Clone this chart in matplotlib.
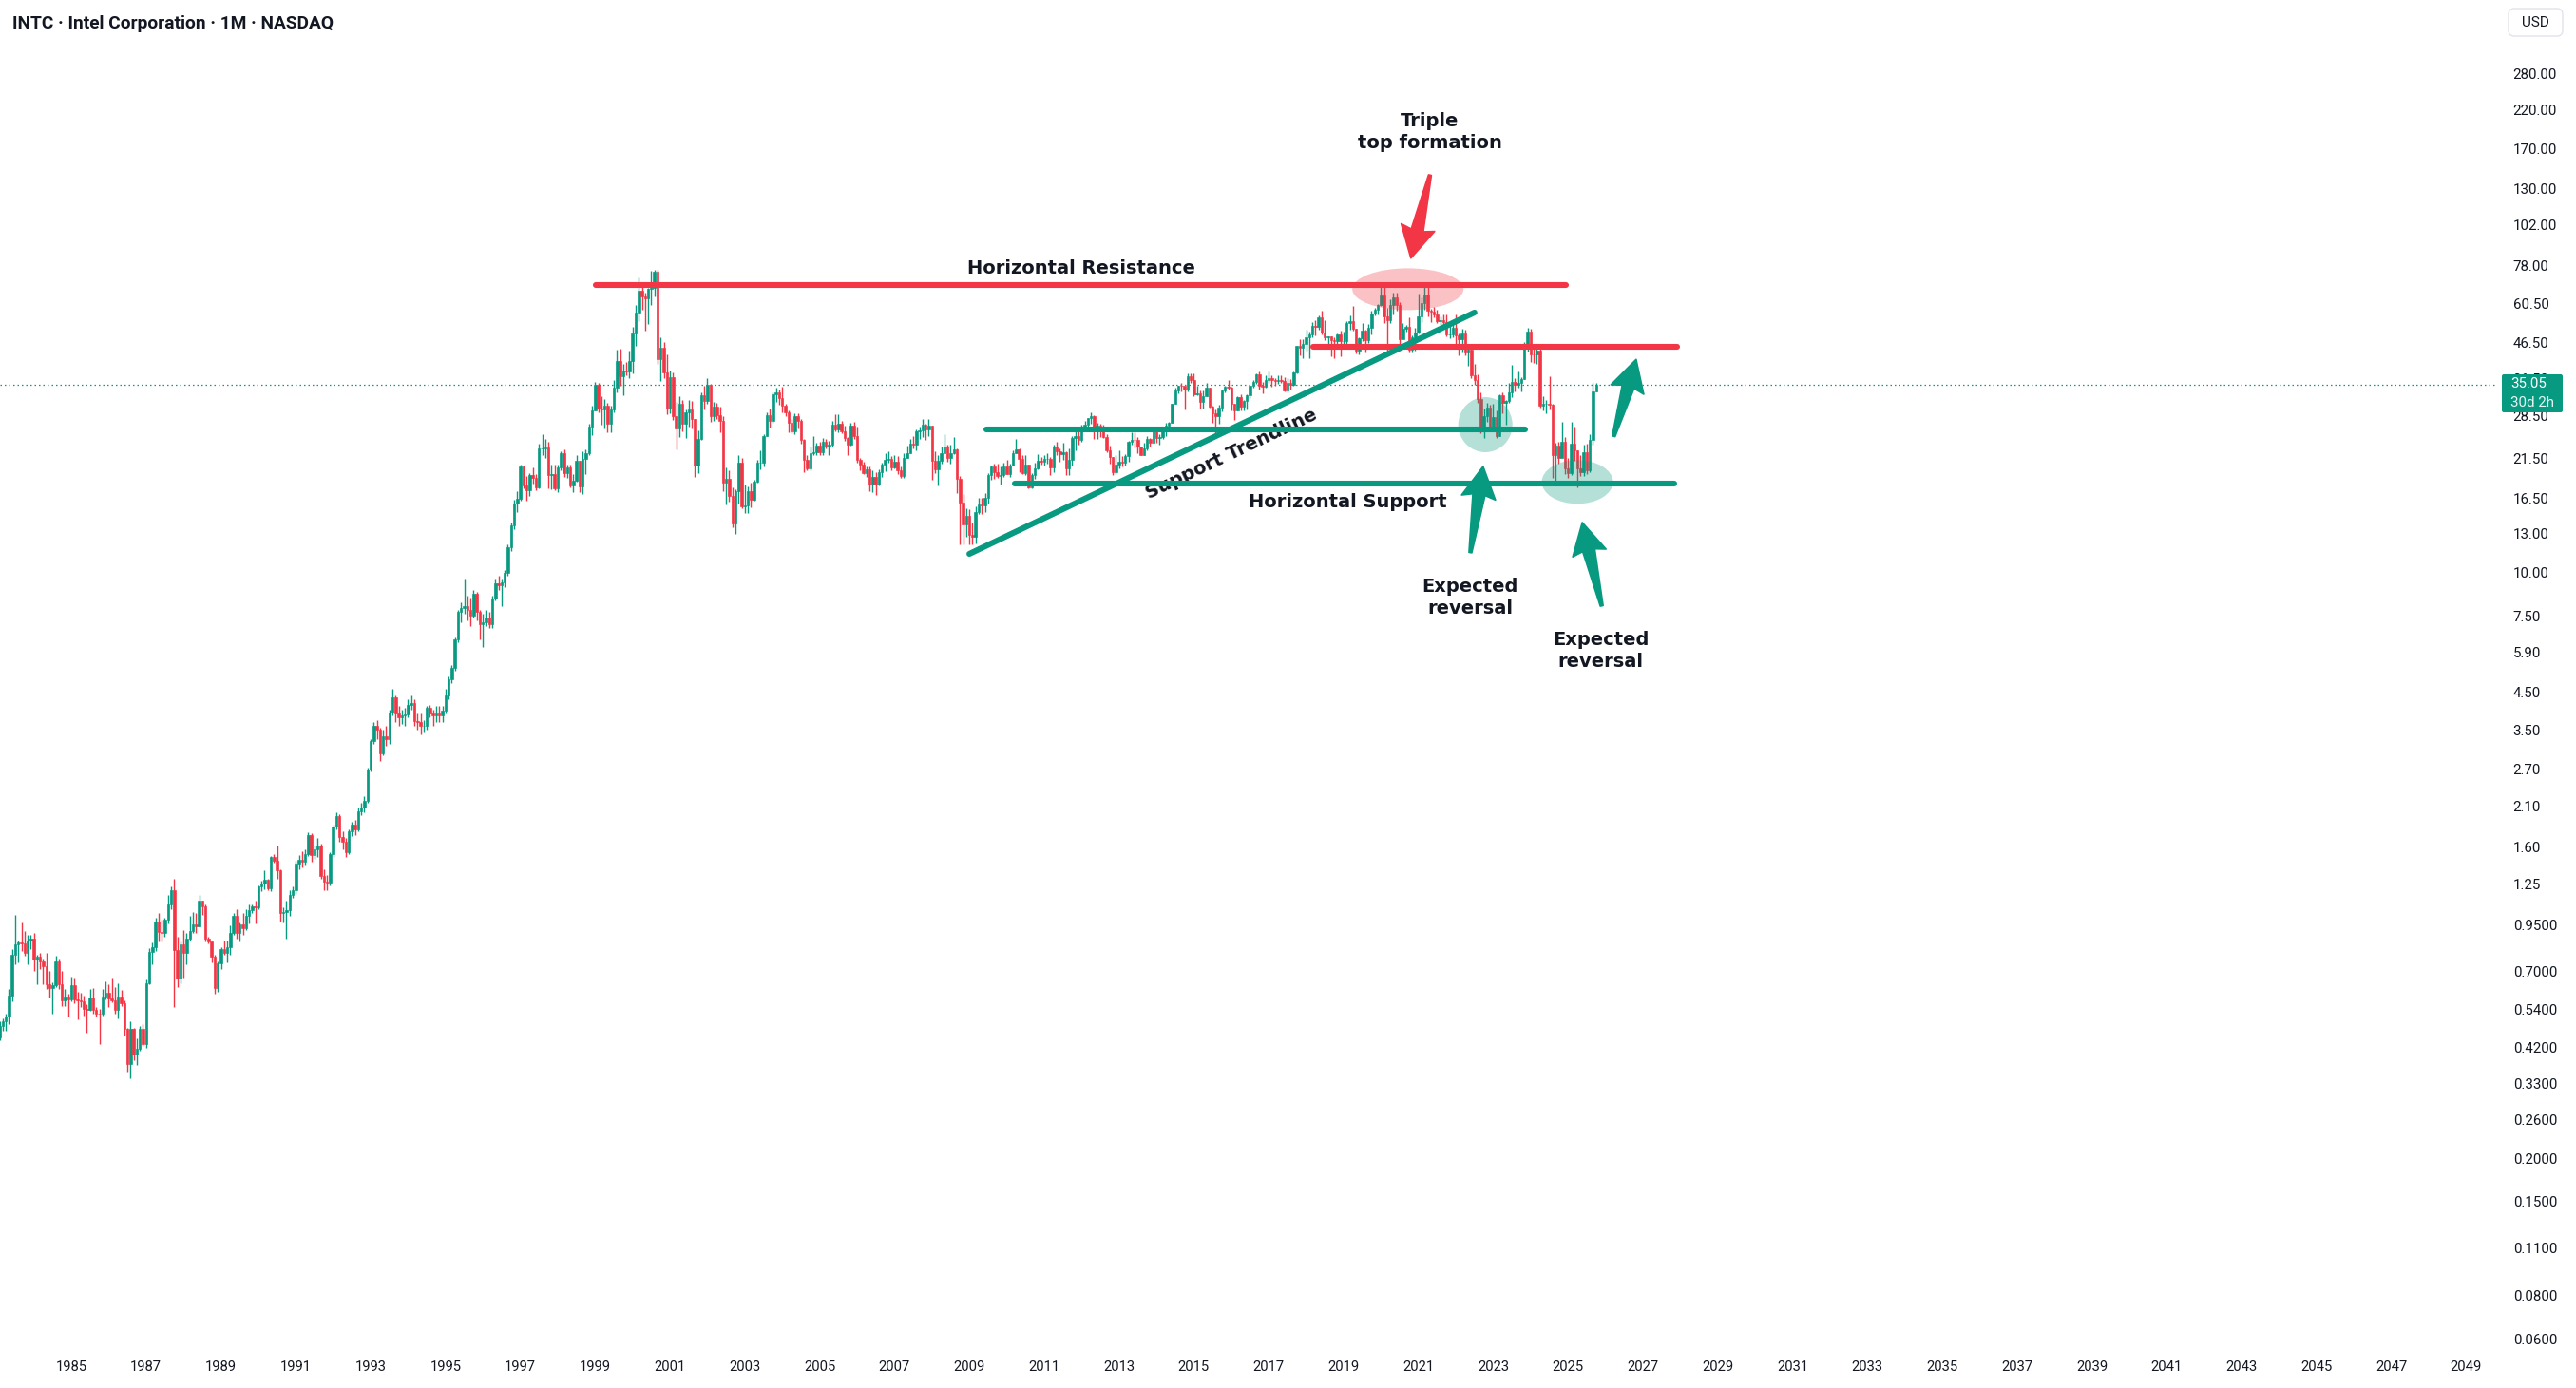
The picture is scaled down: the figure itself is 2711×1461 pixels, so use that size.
import numpy as np
import matplotlib
matplotlib.use("Agg")
import matplotlib.pyplot as plt
from matplotlib.patches import Ellipse, Polygon, FancyBboxPatch
from matplotlib.transforms import IdentityTransform
from matplotlib.ticker import NullLocator

# INTC monthly candles, Feb 1983 .. Oct 2025 (split adjusted, USD)
start_year, start_month = 1983, 2
first_open = 0.45

closes = [
    .485, .50, .517, .593, .78, .835, .845, .84, .79, .86, .87,                 # 1983
    .756, .77, .745, .725, .64, .625, .635, .745, .64, .575, .59, .58,          # 1984
    .636, .58, .575, .572, .545, .54, .587, .54, .528, .527, .59, .605,         # 1985
    .583, .575, .54, .59, .563, .475, .377, .475, .40, .417, .475, .43,         # 1986
    .645, .795, .82, .974, .91, .905, .985, 1.09, 1.20, .806, .666, .835,       # 1987
    .79, .87, .915, .955, .945, 1.12, 1.08, .87, .85, .77, .625, .737,          # 1988
    .81, .79, .82, .90, 1.01, .90, .955, .93, 1.01, 1.05, 1.08, 1.07,           # 1989
    1.23, 1.256, 1.29, 1.22, 1.50, 1.46, 1.37, 1.03, 1.035, 1.05, 1.16, 1.20,   # 1990
    1.43, 1.47, 1.45, 1.53, 1.74, 1.52, 1.58, 1.62, 1.32, 1.27, 1.26, 1.53,     # 1991
    1.84, 1.97, 1.71, 1.66, 1.55, 1.78, 1.86, 1.80, 2.04, 2.08, 2.18, 2.69,     # 1992
    3.25, 3.6, 3.5, 3.0, 3.35, 3.3, 3.94, 4.36, 3.9, 3.8, 3.85, 3.88,           # 1993
    4.15, 4.2, 3.72, 3.7, 3.6, 3.6, 4.05, 3.9, 3.85, 3.9, 3.85, 3.99,           # 1994
    4.4, 4.9, 5.3, 6.4, 7.7, 7.9, 8.0, 7.8, 7.5, 8.7, 7.7, 7.1,                 # 1995
    7.2, 7.4, 7.1, 8.45, 9.3, 9.2, 9.4, 10.0, 11.9, 13.7, 15.9, 16.4,          # 1996
    20.3, 17.9, 17.4, 19.2, 18.9, 17.7, 23.0, 23.0, 23.1, 19.25, 19.4, 17.6,    # 1997
    20.25, 22.3, 19.5, 20.2, 17.9, 18.5, 21.1, 17.8, 21.4, 22.3, 26.5, 29.6,    # 1998
    35.2, 30.0, 29.7, 30.6, 27.0, 29.75, 34.5, 41.05, 37.2, 38.7, 38.4, 41.2,   # 1999
    49.5, 56.9, 66.0, 63.4, 62.4, 66.8, 66.9, 74.9, 41.6, 45.0, 38.06, 30.06,   # 2000
    37.0, 28.56, 26.31, 30.91, 27.01, 29.25, 29.81, 27.96, 20.44, 24.42, 32.66, 31.45,  # 2001
    35.04, 28.55, 30.41, 28.61, 27.62, 18.27, 18.79, 16.69, 13.89, 17.30, 20.88, 15.57, # 2002
    15.66, 17.24, 16.28, 18.40, 20.81, 20.81, 24.93, 28.60, 27.52, 33.05, 33.43, 32.06, # 2003
    30.59, 29.24, 27.20, 25.73, 28.55, 27.60, 24.38, 21.29, 20.06, 22.26, 22.35, 23.39, # 2004
    22.45, 23.99, 23.23, 23.52, 26.93, 26.02, 27.14, 25.72, 24.65, 23.50, 26.68, 24.96, # 2005
    21.27, 20.60, 19.46, 19.98, 18.02, 19.00, 18.00, 19.54, 20.57, 21.34, 21.35, 20.25, # 2006
    20.96, 19.85, 19.13, 21.50, 22.17, 23.76, 23.62, 25.75, 25.86, 26.90, 26.08, 26.66, # 2007
    21.19, 19.95, 21.18, 22.26, 23.18, 21.48, 22.19, 22.87, 18.73, 16.03, 13.80, 14.66, # 2008
    12.90, 12.74, 15.03, 15.78, 15.72, 16.55, 19.25, 20.32, 19.57, 19.11, 19.19, 20.40, # 2009
    19.40, 20.53, 22.29, 22.83, 21.42, 19.45, 20.60, 17.65, 19.20, 20.07, 21.18, 21.03, # 2010
    21.46, 21.47, 20.18, 23.19, 22.51, 22.16, 22.33, 20.12, 21.33, 24.54, 24.91, 24.25, # 2011
    26.44, 26.88, 28.11, 28.40, 25.84, 26.65, 25.70, 24.84, 22.66, 21.62, 19.57, 20.62, # 2012
    21.04, 20.86, 21.84, 23.95, 24.28, 24.23, 23.30, 21.98, 22.92, 24.43, 23.83, 25.95, # 2013
    24.54, 24.76, 25.81, 26.69, 27.32, 30.90, 33.89, 34.92, 34.82, 34.01, 37.25, 36.29, # 2014
    33.04, 33.25, 31.27, 32.55, 34.47, 30.42, 28.95, 28.54, 30.14, 33.86, 34.77, 34.45, # 2015
    31.02, 29.58, 32.35, 30.28, 31.59, 32.80, 34.86, 35.89, 37.75, 34.87, 34.70, 36.27, # 2016
    36.82, 36.20, 36.07, 36.15, 36.11, 33.74, 35.47, 35.07, 38.08, 45.49, 44.84, 46.16, # 2017
    48.14, 49.29, 52.08, 51.62, 55.20, 49.71, 48.10, 48.43, 47.29, 46.88, 49.31, 46.93, # 2018
    47.12, 52.96, 53.70, 51.04, 44.04, 47.87, 50.55, 47.41, 51.53, 56.53, 58.05, 59.85, # 2019
    63.93, 55.52, 54.12, 59.98, 62.93, 59.83, 47.73, 50.95, 51.78, 44.28, 48.35, 49.82, # 2020
    55.51, 60.78, 64.00, 57.52, 57.12, 56.14, 53.72, 54.06, 53.28, 49.00, 49.20, 51.50, # 2021
    48.82, 47.70, 49.56, 43.59, 44.42, 37.41, 36.31, 31.91, 25.77, 28.43, 30.07, 26.43, # 2022
    28.26, 24.93, 32.67, 31.06, 31.44, 33.44, 35.77, 35.14, 35.55, 36.50, 44.70, 50.25, # 2023
    43.08, 43.05, 44.17, 30.47, 30.84, 30.97, 30.74, 21.98, 23.46, 21.48, 24.04, 20.05, # 2024
    19.43, 23.76, 22.71, 20.10, 19.55, 22.40, 19.80, 24.35, 33.55, 35.05,               # 2025
]

highs = [
    .50, .51, .525, .62, .81, 1.02, .86, .965, .915, .89, .89,
    .905, .78, .79, .76, .79, .70, .65, .775, .76, .70, .62, .60,
    .675, .67, .61, .605, .595, .56, .62, .625, .55, .545, .62, .653,
    .64, .67, .63, .645, .615, .575, .48, .50, .48, .445, .485, .49,
    .66, .815, .845, 1.0, 1.03, .985, 1.0, 1.16, 1.23, 1.30, .88, .85,
    .92, .905, 1.01, 1.04, 1.03, 1.16, 1.12, 1.09, .88, .85, .78, .745,
    .82, .86, .86, .95, 1.03, 1.06, .97, 1.03, 1.06, 1.09, 1.09, 1.12,
    1.24, 1.28, 1.37, 1.30, 1.51, 1.53, 1.62, 1.38, 1.07, 1.12, 1.20, 1.23,
    1.46, 1.52, 1.56, 1.58, 1.77, 1.76, 1.62, 1.70, 1.64, 1.38, 1.33, 1.55,
    1.86, 2.02, 2.00, 1.78, 1.70, 1.80, 1.90, 1.92, 2.08, 2.15, 2.25, 2.72,
    3.3, 3.7, 3.75, 3.55, 3.5, 3.6, 4.0, 4.6, 4.4, 4.1, 4.0, 4.05,
    4.3, 4.4, 4.3, 3.9, 3.9, 3.75, 4.1, 4.15, 4.0, 4.1, 4.1, 4.1,
    4.6, 5.0, 5.4, 6.5, 7.8, 8.2, 9.6, 8.6, 8.5, 8.9, 8.8, 7.8,
    7.6, 7.8, 7.7, 8.6, 9.6, 9.8, 9.6, 10.2, 12.1, 14.0, 16.3, 17.3,
    20.6, 20.5, 19.1, 19.5, 20.2, 19.4, 23.7, 25.3, 24.4, 24.0, 20.6, 20.6,
    20.6, 22.5, 22.8, 20.6, 20.6, 19.4, 21.9, 21.2, 22.5, 22.8, 27.0, 30.6,
    35.7, 35.6, 32.6, 32.0, 31.2, 30.6, 36.3, 44.3, 44.8, 40.3, 40.9, 44.0,
    51.6, 59.9, 72.0, 68.9, 64.9, 67.0, 75.1, 75.8, 75.5, 48.1, 46.8, 42.9,
    38.7, 38.2, 31.4, 32.5, 31.7, 29.8, 31.8, 31.6, 28.0, 25.9, 33.3, 35.0,
    36.8, 35.3, 31.4, 31.2, 30.3, 28.4, 20.2, 19.9, 17.7, 17.5, 22.0, 21.5,
    18.0, 17.8, 18.3, 18.6, 21.3, 22.7, 25.2, 29.2, 30.0, 33.3, 34.5, 34.0,
    34.6, 31.0, 29.5, 27.9, 29.0, 29.0, 27.9, 24.5, 22.0, 23.3, 24.9, 23.9,
    24.0, 24.6, 24.5, 24.2, 27.6, 28.8, 28.8, 27.6, 26.7, 24.7, 27.3, 27.5,
    26.6, 21.6, 21.0, 20.3, 20.3, 19.8, 19.6, 20.0, 20.9, 22.2, 22.5, 21.8,
    22.0, 21.8, 20.4, 22.2, 23.4, 24.4, 25.0, 26.0, 26.5, 27.9, 27.0, 27.9,
    26.8, 22.5, 22.0, 23.2, 25.3, 23.6, 23.5, 24.7, 23.0, 19.1, 16.9, 15.4,
    15.3, 14.0, 15.6, 16.5, 16.5, 17.0, 19.5, 20.5, 20.8, 20.8, 20.3, 20.9,
    21.3, 20.7, 22.6, 24.4, 23.0, 22.0, 21.9, 20.6, 19.5, 20.9, 22.1, 21.7,
    22.0, 22.3, 21.7, 23.5, 24.0, 23.0, 23.9, 22.5, 23.0, 24.9, 25.8, 25.8,
    26.9, 27.6, 28.2, 29.3, 28.6, 27.3, 27.0, 26.9, 25.3, 23.4, 21.7, 21.9,
    22.6, 21.8, 22.1, 24.1, 25.5, 25.5, 24.8, 23.2, 23.8, 24.9, 24.6, 26.1,
    26.1, 25.2, 26.0, 27.2, 27.4, 31.0, 34.5, 35.0, 35.6, 34.3, 38.0, 37.9,
    37.9, 35.0, 33.7, 33.8, 35.6, 34.5, 30.5, 29.8, 30.7, 34.1, 35.0, 36.2,
    34.6, 31.0, 32.6, 32.9, 31.8, 33.0, 35.2, 36.3, 38.0, 38.4, 35.9, 37.4,
    38.5, 37.4, 36.8, 37.4, 37.3, 37.0, 36.7, 36.5, 38.4, 45.6, 47.6, 47.6,
    50.8, 50.2, 53.4, 54.0, 55.8, 57.6, 53.9, 48.6, 48.5, 48.2, 49.4, 50.3,
    50.2, 53.6, 55.9, 59.6, 51.2, 48.2, 53.0, 50.6, 52.8, 57.6, 58.6, 60.4,
    69.29, 68.1, 58.7, 62.0, 65.1, 65.1, 61.0, 53.1, 52.4, 55.0, 48.8, 51.5,
    64.6, 63.0, 68.4, 68.5, 58.4, 59.1, 57.9, 55.4, 56.0, 56.3, 51.9, 54.0,
    56.3, 49.6, 51.1, 50.6, 45.5, 45.3, 40.3, 37.6, 33.4, 29.9, 31.1, 30.8,
    31.0, 29.6, 33.0, 33.4, 31.7, 35.6, 40.0, 36.8, 38.4, 36.9, 46.6, 51.3,
    51.0, 46.1, 45.4, 44.6, 32.6, 31.7, 37.2, 30.9, 23.8, 24.0, 27.5, 24.8,
    21.5, 27.4, 26.5, 22.6, 21.9, 23.6, 23.7, 25.3, 35.6, 35.6,
]

lows = [
    .44, .47, .47, .49, .57, .73, .74, .80, .775, .73, .81,
    .70, .64, .71, .64, .62, .587, .525, .63, .62, .553, .555, .515,
    .57, .565, .507, .55, .52, .465, .535, .525, .515, .43, .52, .58,
    .55, .568, .525, .51, .555, .455, .358, .342, .385, .374, .41, .425,
    .42, .64, .73, .80, .85, .85, .88, .96, 1.06, .552, .63, .645,
    .67, .73, .86, .90, .90, .94, 1.02, .85, .84, .74, .60, .61,
    .71, .78, .74, .78, .89, .87, .85, .89, .92, .96, 1.03, .96,
    1.06, 1.19, 1.21, 1.20, 1.19, 1.44, 1.30, .974, .97, .87, 1.01, 1.14,
    1.17, 1.38, 1.40, 1.42, 1.51, 1.45, 1.48, 1.50, 1.30, 1.20, 1.20, 1.24,
    1.50, 1.80, 1.66, 1.58, 1.50, 1.53, 1.72, 1.74, 1.78, 1.98, 2.02, 2.15,
    2.65, 3.2, 3.3, 2.85, 2.95, 3.15, 3.2, 3.85, 3.7, 3.6, 3.65, 3.6,
    3.8, 4.0, 3.6, 3.5, 3.4, 3.45, 3.5, 3.8, 3.6, 3.7, 3.7, 3.7,
    3.9, 4.3, 4.8, 5.2, 6.3, 7.2, 7.6, 7.3, 7.0, 7.4, 7.3, 6.4,
    6.1, 7.0, 6.9, 6.9, 8.3, 8.9, 8.0, 9.1, 9.8, 11.6, 13.4, 15.0,
    16.2, 17.6, 16.2, 16.7, 18.2, 17.4, 17.6, 21.9, 21.6, 17.6, 17.5, 17.4,
    17.1, 19.9, 19.0, 18.9, 17.7, 17.1, 18.4, 17.1, 16.9, 19.4, 21.9, 25.1,
    29.5, 29.3, 26.9, 26.2, 25.5, 25.5, 29.2, 33.3, 35.0, 32.8, 37.3, 36.6,
    37.8, 45.6, 53.6, 58.0, 50.4, 52.8, 59.9, 63.3, 40.4, 36.0, 36.8, 28.9,
    29.0, 27.8, 22.8, 24.8, 25.7, 24.6, 26.6, 26.3, 18.96, 19.5, 24.3, 29.8,
    30.9, 27.5, 27.6, 27.9, 25.5, 17.2, 15.8, 16.1, 13.6, 12.95, 15.9, 15.4,
    14.9, 14.9, 15.5, 16.2, 18.3, 20.0, 20.4, 24.9, 26.4, 27.2, 31.4, 30.7,
    29.2, 28.5, 25.6, 25.4, 25.3, 26.3, 23.7, 19.6, 19.9, 19.8, 22.0, 21.9,
    21.9, 21.9, 22.9, 21.9, 23.3, 25.7, 25.6, 25.4, 24.1, 21.9, 23.4, 24.4,
    20.9, 19.9, 19.3, 19.0, 17.3, 17.1, 16.8, 17.9, 19.0, 19.7, 20.9, 19.8,
    20.1, 19.4, 18.8, 18.9, 21.5, 22.2, 22.9, 22.6, 24.5, 24.8, 24.3, 25.0,
    18.6, 19.5, 17.9, 20.8, 22.2, 21.0, 20.8, 22.1, 17.0, 12.1, 12.1, 12.7,
    12.1, 12.1, 12.2, 14.8, 14.8, 15.0, 15.9, 18.6, 18.7, 18.8, 18.0, 19.0,
    19.3, 19.0, 20.5, 22.2, 19.6, 19.3, 19.2, 17.6, 17.6, 18.7, 20.0, 20.6,
    20.5, 20.8, 19.2, 19.6, 22.0, 21.0, 21.3, 19.2, 19.2, 20.5, 22.7, 23.6,
    24.0, 26.0, 26.5, 27.0, 24.5, 24.5, 24.8, 24.6, 22.4, 20.8, 19.2, 19.4,
    20.1, 20.3, 20.5, 21.0, 23.5, 23.1, 22.2, 21.9, 21.9, 22.6, 23.3, 23.7,
    23.9, 23.6, 24.5, 25.0, 25.9, 27.3, 30.9, 33.2, 33.5, 29.8, 33.5, 35.6,
    32.5, 32.8, 30.0, 30.0, 32.5, 30.1, 27.3, 24.9, 27.0, 29.4, 33.4, 34.0,
    29.5, 27.7, 29.6, 29.5, 29.5, 29.8, 32.2, 34.4, 35.4, 34.0, 33.2, 34.4,
    35.5, 34.7, 34.9, 35.3, 35.6, 33.6, 33.3, 34.1, 34.9, 37.8, 42.7, 41.9,
    44.2, 42.0, 48.1, 48.8, 50.6, 49.3, 47.3, 45.8, 42.4, 42.0, 45.0, 42.4,
    44.6, 46.1, 50.9, 50.5, 43.4, 42.9, 46.9, 43.6, 46.5, 49.1, 55.9, 56.3,
    59.6, 53.2, 43.6, 52.9, 56.2, 57.7, 46.1, 48.1, 50.0, 43.6, 43.6, 44.1,
    49.6, 53.5, 58.0, 55.4, 53.3, 55.1, 52.9, 52.5, 52.6, 48.4, 48.0, 48.2,
    45.4, 42.8, 43.6, 42.7, 39.8, 36.6, 35.2, 31.1, 25.4, 24.6, 27.5, 26.0,
    26.0, 24.6, 24.9, 29.1, 26.9, 31.2, 32.4, 33.6, 34.4, 33.6, 36.4, 43.9,
    40.8, 40.7, 40.3, 30.2, 29.6, 29.0, 29.8, 18.84, 18.51, 20.7, 21.7, 19.3,
    18.9, 19.2, 21.1, 17.7, 19.1, 19.1, 19.4, 19.6, 23.6, 33.5,
]

last_price = 35.05
price_ticks = [280, 220, 170, 130, 102, 78, 60.5, 46.5, 36.5, 28.5, 21.5, 16.5, 13,
               10, 7.5, 5.9, 4.5, 3.5, 2.7, 2.1, 1.6, 1.25, 0.95, 0.70, 0.54, 0.42,
               0.33, 0.26, 0.20, 0.15, 0.11, 0.08, 0.06]
year_ticks = list(range(1985, 2050, 2))

# drawn levels (price)
resistance = 68.3
breakdown = 45.3
mid_support = 26.1
base_support = 18.2
trend_from = (2009.0, 11.35)
trend_to = (2022.5, 56.9)

GREEN = "#089981"
RED = "#F23645"
INK = "#131722"

W, H = 2711, 1461
DPI = 100
PLOT_W, PLOT_H = 2628, 1421
PX_PER_YEAR = 39.38
X0 = 1983.095

fig = plt.figure(figsize=(W / DPI, H / DPI), dpi=DPI)
fig.patch.set_facecolor("white")
ax = fig.add_axes([0, 1 - PLOT_H / H, PLOT_W / W, PLOT_H / H])
ax.set_yscale("log")
ax.set_xlim(X0, X0 + PLOT_W / PX_PER_YEAR)
ax.set_ylim(0.0557, 458.7)
ax.autoscale(False)
for s in ax.spines.values():
    s.set_visible(False)

# candles
c = np.array(closes)
h = np.array(highs)
l = np.array(lows)
o = np.r_[first_open, c[:-1]]
t = start_year + (start_month - 1) / 12 + np.arange(len(c)) / 12
cols = np.where(c >= o, GREEN, RED)
ax.vlines(t, l, h, colors=cols, linewidth=1.0, zorder=2)
lo = np.minimum(o, c)
hi = np.maximum(o, c)
ax.bar(t, hi - lo, bottom=lo, width=0.062, color=cols, edgecolor=cols,
       linewidth=0.45, zorder=2)

# last price line
ax.axhline(last_price, color=GREEN, lw=0.9, ls=(0, (1.2, 2.4)), zorder=1)

# axes ticks
ax.yaxis.tick_right()
ax.set_yticks(price_ticks)
ax.set_yticklabels([f"{v:.2f}" if v >= 1 else f"{v:.4f}" for v in price_ticks])
ax.yaxis.set_minor_locator(NullLocator())
ax.tick_params(axis="y", length=0, pad=12, labelsize=10.8, labelcolor=INK)
ax.set_xticks(year_ticks)
ax.set_xticklabels([str(y) for y in year_ticks])
ax.tick_params(axis="x", length=0, pad=8, labelsize=10.6, labelcolor=INK)
for lab in ax.get_xticklabels() + ax.get_yticklabels():
    lab.set_fontfamily("Roboto")


def to_px(x, y):
    return ax.transData.transform((x, y))


def ellipse(x, y, w, hgt, color):
    cx, cy = to_px(x, y)
    ax.add_patch(Ellipse((cx, cy), w, hgt, transform=IdentityTransform(),
                         facecolor=color, alpha=0.3, edgecolor="none", zorder=3))


def arrow(tail, tip, color, head_len=30, head_w=36, tail_w=3, neck_w=13):
    p0 = np.array(to_px(*tail))
    p1 = np.array(to_px(*tip))
    d = p1 - p0
    u = d / np.hypot(*d)
    n = np.array([-u[1], u[0]])
    base = p1 - u * head_len
    pts = [p0 + n * tail_w / 2, base + n * neck_w / 2, base + n * head_w / 2 - u * 3,
           p1, base - n * head_w / 2 - u * 3, base - n * neck_w / 2, p0 - n * tail_w / 2]
    ax.add_patch(Polygon(pts, closed=True, transform=IdentityTransform(),
                         facecolor=color, edgecolor=color, lw=1.2,
                         joinstyle="round", zorder=5))


ellipse(2020.72, 66.5, 117, 44, RED)
ellipse(2022.79, 26.9, 57, 58, GREEN)
ellipse(2025.25, 18.35, 75, 46, GREEN)

line_kw = dict(lw=4.4, solid_capstyle="round", zorder=4)
ax.plot([1999.02, 2024.94], [resistance, resistance], color=RED, **line_kw)
ax.plot([2018.19, 2027.92], [breakdown, breakdown], color=RED, **line_kw)
ax.plot([2009.45, 2023.85], [mid_support, mid_support], color=GREEN, **line_kw)
ax.plot([2010.22, 2027.84], [base_support, base_support], color=GREEN, **line_kw)
ax.plot([trend_from[0], trend_to[0]], [trend_from[1], trend_to[1]], color=GREEN, **line_kw)

arrow((2021.31, 142.5), (2020.80, 81.8), RED)
arrow((2022.39, 11.45), (2022.73, 20.35), GREEN)
arrow((2025.90, 8.02), (2025.38, 14.0), GREEN)
arrow((2026.22, 24.9), (2026.82, 41.6), GREEN)

txt_kw = dict(fontsize=14, fontweight="bold", color=INK, ha="center", va="center",
              family="DejaVu Sans", zorder=3.5, linespacing=1.3)
ax.text(2011.99, 76.6, "Horizontal Resistance", **txt_kw)
ax.text(2021.31, 189.9, "Triple\ntop formation", **txt_kw)
ax.text(2016.0, 22.1, "Support Trendline", rotation=25.5, rotation_mode="anchor", **txt_kw)
ax.text(2019.1, 16.0, "Horizontal Support", **txt_kw)
ax.text(2022.38, 8.48, "Expected\nreversal", **txt_kw)
ax.text(2025.88, 5.94, "Expected\nreversal", **txt_kw)

# header and price-scale widgets (figure pixels, origin top-left)
fig.text(13 / W, 1 - 25 / H, "INTC \u00b7 Intel Corporation \u00b7 1M \u00b7 NASDAQ",
         fontsize=13.8, fontweight="bold", family="Roboto", color=INK,
         ha="left", va="center")

usd = FancyBboxPatch((2640, H - 38), 57, 29, boxstyle="round,pad=0,rounding_size=6",
                     transform=IdentityTransform(), facecolor="white",
                     edgecolor="#E0E3EB", lw=1.0)
fig.add_artist(usd)
fig.text(2668.5 / W, 1 - 23.5 / H, "USD", fontsize=11, family="Roboto", color=INK,
         ha="center", va="center")

tag = FancyBboxPatch((2633, H - 434), 64, 40, boxstyle="round,pad=0,rounding_size=2",
                     transform=IdentityTransform(), facecolor=GREEN, edgecolor="none")
fig.add_artist(tag)
fig.text(2642 / W, 1 - 404 / H, f"{last_price:.2f}", fontsize=10.8, family="Roboto",
         color="white", ha="left", va="center")
fig.text(2642 / W, 1 - 424 / H, "30d 2h", fontsize=10.8, family="Roboto",
         color="#E6F5F2", ha="left", va="center")

fig.savefig("out.png", dpi=DPI, facecolor="white")
